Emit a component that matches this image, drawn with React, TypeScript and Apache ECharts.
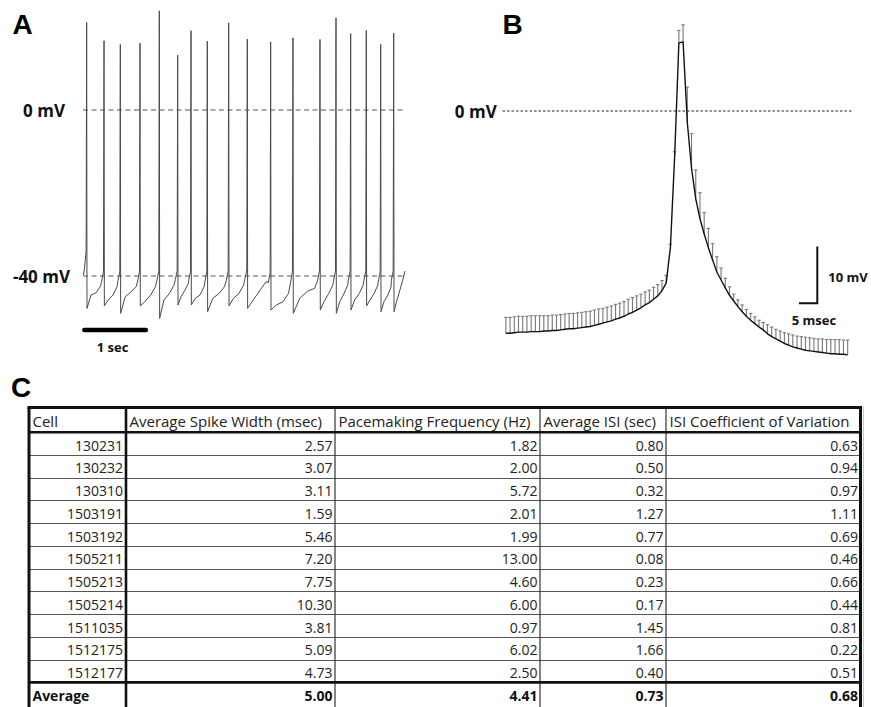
import { useEffect, useRef } from 'react';
import * as echarts from 'echarts';

// ---------------- Panel A: spontaneous firing trace ----------------
const spikeTimesSec = [0.010, 0.273, 0.520, 0.818, 1.111, 1.389, 1.591, 1.838, 2.162, 2.444, 2.798, 3.136, 3.545, 3.788, 4.010, 4.247, 4.465, 4.662];
const spikePeaksMv = [21.1, 16.7, 15.8, 16.1, 23.9, 13.2, 19.1, 16.6, 21.0, 17.1, 16.4, 17.4, 17.0, 22.2, 18.4, 19.2, 15.8, 18.5];
const approachMv = [-38.5, -41.2, -41.0, -41.2, -41.0, -40.8, -41.0, -41.2, -41.0, -40.6, -41.6, -41.4, -41.0, -41.0, -41.0, -41.0, -41.2, -41.0];
const onsetMv = [-34.0, -39.0, -39.0, -39.0, -38.8, -38.8, -39.0, -39.0, -38.8, -38.6, -39.2, -39.0, -38.8, -38.8, -38.8, -38.8, -39.0, -38.8];
const troughMv = [-47.8, -47.2, -49.0, -47.2, -50.2, -47.0, -47.0, -48.6, -47.2, -47.8, -48.2, -49.0, -48.2, -49.0, -48.2, -47.2, -48.6, -48.6];
const earlyMv = [-44.6, -45.8, -45.0, -46.2, -45.8, -45.0, -45.4, -45.4, -45.4, -45.8, -47.0, -45.4, -46.2, -46.2, -45.8, -45.8, -46.2, -46.2];
const midMv = [-44.0, -44.6, -43.8, -44.6, -44.2, -43.4, -44.6, -44.2, -44.2, -43.4, -46.2, -43.6, -44.2, -44.2, -44.2, -44.2, -44.6, -43.4];
const lateMv = [-42.4, -42.6, -42.6, -42.6, -42.2, -41.8, -42.6, -42.6, -42.2, -41.4, -44.2, -43.0, -42.2, -42.2, -42.2, -42.2, -42.6, -41.0];
const traceStartA = [-0.04, -39.8];
const traceEndA = [4.833, -38.8];
const refLinesA = [0, -40];
const timeBarSec = [-0.026, 0.906];
const timeBarMv = -53;

// ---------------- Panel B: average spike waveform ----------------
const sampleMs = 1.15;
const peakIndex = 42;
const meanB = [
  -39.2, -39.2, -39.1, -39.0, -39.0, -39.0, -38.9, -38.9, -38.9, -38.8, -38.8, -38.7, -38.7, -38.6, -38.5,
  -38.4, -38.4, -38.3, -38.2, -38.1, -38.0, -37.8, -37.6, -37.4, -37.2, -37.0, -36.7, -36.5, -36.2, -35.8,
  -35.5, -35.1, -34.7, -34.2, -33.8, -33.2, -32.6, -31.7, -30.3, -24.0, -8.0, 12.0, 12.2,
  -2.0, -10.1, -15.5, -19.0, -21.7, -24.1, -26.3, -28.4, -29.8, -31.2, -32.5, -33.5, -34.5, -35.4, -36.2,
  -36.9, -37.5, -38.1, -38.6, -39.3, -39.8, -40.2, -40.6, -41.0, -41.3, -41.6, -41.8, -42.0, -42.2, -42.3,
  -42.4, -42.5, -42.6, -42.7, -42.8, -42.8, -42.9, -42.9, -43.0,
];
const semB = [
  2.8, 2.8, 2.8, 2.8, 2.8, 2.8, 2.8, 2.8, 2.8, 2.7, 2.7, 2.7, 2.7, 2.7, 2.7,
  2.7, 2.7, 2.7, 2.7, 2.7, 2.7, 2.7, 2.7, 2.6, 2.6, 2.6, 2.6, 2.6, 2.6, 2.6,
  2.6, 2.5, 2.4, 2.3, 2.2, 2.1, 2.0, 1.8, 1.3, 0.5, 0.8, 2.2, 3.0,
  6.2, 6.1, 5.1, 4.6, 3.8, 3.4, 2.9, 2.7, 2.1, 1.7, 1.5, 1.2, 1.2, 1.2, 1.2,
  1.2, 1.2, 1.2, 1.3, 1.6, 1.7, 1.7, 1.8, 1.9, 2.0, 2.1, 2.1, 2.2, 2.3, 2.3,
  2.3, 2.3, 2.4, 2.4, 2.5, 2.5, 2.6, 2.5, 2.6,
];
const zeroLineMs = [-49.2, 46];
const scaleBarMs = [31.57, 36.57];
const scaleBarMv = [-33.9, -23.9];

// ---------------- Panel C: table ----------------
const headers = ['Cell', 'Average Spike Width (msec)', 'Pacemaking Frequency (Hz)', 'Average ISI (sec)', 'ISI Coefficient of Variation'];
const cellIds = ['130231', '130232', '130310', '1503191', '1503192', '1505211', '1505213', '1505214', '1511035', '1512175', '1512177'];
const spikeWidth = [2.57, 3.07, 3.11, 1.59, 5.46, 7.2, 7.75, 10.3, 3.81, 5.09, 4.73];
const pacemakingFreq = [1.82, 2.0, 5.72, 2.01, 1.99, 13.0, 4.6, 6.0, 0.97, 6.02, 2.5];
const averageIsi = [0.8, 0.5, 0.32, 1.27, 0.77, 0.08, 0.23, 0.17, 1.45, 1.66, 0.4];
const isiCv = [0.63, 0.94, 0.97, 1.11, 0.69, 0.46, 0.66, 0.44, 0.81, 0.22, 0.51];
const averageRow = [5.0, 4.41, 0.73, 0.68];

function buildTraceA() {
  const pts: number[][] = [traceStartA];
  for (let i = 0; i < spikeTimesSec.length; i++) {
    const t = spikeTimesSec[i];
    const next = i + 1 < spikeTimesSec.length ? spikeTimesSec[i + 1] : traceEndA[0];
    const dt = next - t;
    pts.push([t - 0.035, approachMv[i]]);
    pts.push([t - 0.008, onsetMv[i]]);
    pts.push([t, spikePeaksMv[i]]);
    pts.push([t + 0.005, troughMv[i]]);
    pts.push([t + 0.25 * dt, earlyMv[i]]);
    pts.push([t + 0.55 * dt, midMv[i]]);
    pts.push([t + 0.8 * dt, lateMv[i]]);
  }
  pts.push(traceEndA);
  return pts;
}

const LABEL_FONT = '"Open Sans", "Liberation Sans", sans-serif';
const LETTER_FONT = '"Liberation Sans", Arial, sans-serif';

function textEl(text: string, x: number, y: number, size: number, weight: string, align: string, font = LABEL_FONT, fill = '#111') {
  return {
    type: 'text',
    x,
    y,
    silent: true,
    style: { text, fill, fontSize: size, fontWeight: weight, fontFamily: font, align, verticalAlign: 'middle' },
  };
}

function lineEl(x1: number, y1: number, x2: number, y2: number, width: number, color: string) {
  return {
    type: 'line',
    silent: true,
    shape: { x1, y1, x2, y2 },
    style: { stroke: color, lineWidth: width },
  };
}

function buildTable() {
  const els: any[] = [];
  const colEdges = [29, 126, 335, 540, 666, 860.5];
  const top = 407.5;
  const headerBottom = 432.3;
  const rowH = 22.73;
  const avgTop = headerBottom + rowH * cellIds.length;
  const bottom = 712;
  const textColor = '#222';

  for (let i = 1; i < cellIds.length; i++) {
    const y = Math.round(headerBottom + rowH * i) + 0.5;
    els.push(lineEl(colEdges[0], y, colEdges[5], y, 1, '#555'));
  }
  for (let c = 2; c <= 4; c++) {
    els.push(lineEl(colEdges[c], top, colEdges[c], bottom, 1.2, '#333'));
  }
  els.push(lineEl(colEdges[1], top, colEdges[1], bottom, 2.6, '#111'));
  els.push(lineEl(colEdges[0], headerBottom, colEdges[5], headerBottom, 2.6, '#111'));
  els.push(lineEl(colEdges[0], avgTop, colEdges[5], avgTop, 2.6, '#111'));
  els.push(lineEl(colEdges[0] - 1.5, top, colEdges[5] + 1.5, top, 3, '#111'));
  els.push(lineEl(colEdges[0], top, colEdges[0], bottom, 3, '#111'));
  els.push(lineEl(colEdges[5], top, colEdges[5], bottom, 3, '#111'));
  els.push(lineEl(colEdges[5] + 3, top - 1, colEdges[5] + 3, bottom, 1, '#c8c8c8'));

  headers.forEach((h, c) => {
    els.push(textEl(h, colEdges[c] + 3.5, (top + headerBottom) / 2 + 1.5, 15, 'normal', 'left', LABEL_FONT, textColor));
  });
  const cols = [spikeWidth, pacemakingFreq, averageIsi, isiCv];
  cellIds.forEach((id, r) => {
    const y = headerBottom + rowH * (r + 0.5) + 1.5;
    els.push(textEl(id, colEdges[1] - 3, y, 14, 'normal', 'right', LABEL_FONT, textColor));
    cols.forEach((col, c) => {
      els.push(textEl(col[r].toFixed(2), colEdges[c + 2] - 2.5, y, 14, 'normal', 'right', LABEL_FONT, textColor));
    });
  });
  const yAvg = avgTop + 13.5;
  els.push(textEl('Average', colEdges[0] + 3.5, yAvg, 14, 'bold', 'left', LABEL_FONT, '#111'));
  averageRow.forEach((v, c) => {
    els.push(textEl(v.toFixed(2), colEdges[c + 2] - 2.5, yAvg, 14, 'bold', 'right', LABEL_FONT, '#111'));
  });
  return els;
}

export default function App() {
  const ref = useRef<HTMLDivElement>(null);

  useEffect(() => {
    document.body.style.margin = '0';
    if (!ref.current) return;
    const chart = echarts.init(ref.current, undefined, { renderer: 'svg' });

    const timesB = meanB.map((_, k) => (k - peakIndex) * sampleMs);
    const meanData = meanB.map((m, k) => [timesB[k], m]);
    const errData = meanB.map((m, k) => [timesB[k], m, semB[k]]);

    const option: any = {
      animation: false,
      backgroundColor: '#ffffff',
      grid: [
        { left: 79.4, top: 6.25, width: 336.6, height: 336.15 },
        { left: 499.6, top: 8.94, width: 352.3, height: 362.9 },
      ],
      xAxis: [
        { type: 'value', gridIndex: 0, min: -0.1, max: 5, show: false },
        { type: 'value', gridIndex: 1, min: -50, max: 46, show: false },
      ],
      yAxis: [
        { type: 'value', gridIndex: 0, min: -56, max: 25, show: false },
        { type: 'value', gridIndex: 1, min: -46, max: 18, show: false },
      ],
      series: [
        ...refLinesA.map((v) => ({
          type: 'line',
          xAxisIndex: 0,
          yAxisIndex: 0,
          symbol: 'none',
          silent: true,
          z: 1,
          data: [[-0.045, v], [4.83, v]],
          lineStyle: { color: '#555', width: 1, type: [5, 3.5] },
        })),
        {
          type: 'line',
          xAxisIndex: 0,
          yAxisIndex: 0,
          symbol: 'none',
          silent: true,
          z: 3,
          data: buildTraceA(),
          lineStyle: { color: '#4a4a4a', width: 1, join: 'bevel' },
        },
        {
          type: 'line',
          xAxisIndex: 0,
          yAxisIndex: 0,
          symbol: 'none',
          silent: true,
          z: 3,
          data: [[timeBarSec[0], timeBarMv], [timeBarSec[1], timeBarMv]],
          lineStyle: { color: '#000', width: 4.5, cap: 'round' },
        },
        {
          type: 'line',
          xAxisIndex: 1,
          yAxisIndex: 1,
          symbol: 'none',
          silent: true,
          z: 1,
          data: [[zeroLineMs[0], 0], [zeroLineMs[1], 0]],
          lineStyle: { color: '#222', width: 1, type: [2.5, 2] },
        },
        {
          type: 'custom',
          xAxisIndex: 1,
          yAxisIndex: 1,
          silent: true,
          z: 2,
          dimensions: ['t', 'mean', 'sem'],
          encode: { x: 0, y: 1 },
          data: errData,
          renderItem: (_params: any, api: any) => {
            const t = api.value(0);
            const m = api.value(1);
            const s = api.value(2);
            const p0 = api.coord([t, m]);
            const p1 = api.coord([t, m + s]);
            const st = { stroke: '#777', lineWidth: 1.1 };
            return {
              type: 'group',
              children: [
                { type: 'line', shape: { x1: p0[0], y1: p0[1], x2: p1[0], y2: p1[1] }, style: st },
                { type: 'line', shape: { x1: p1[0] - 1.7, y1: p1[1], x2: p1[0] + 1.7, y2: p1[1] }, style: st },
              ],
            };
          },
        },
        {
          type: 'line',
          xAxisIndex: 1,
          yAxisIndex: 1,
          symbol: 'none',
          silent: true,
          z: 4,
          data: meanData,
          lineStyle: { color: '#111', width: 1.4, join: 'round' },
        },
        {
          type: 'line',
          xAxisIndex: 1,
          yAxisIndex: 1,
          symbol: 'none',
          silent: true,
          z: 4,
          data: [[scaleBarMs[0], scaleBarMv[0]], [scaleBarMs[1], scaleBarMv[0]], [scaleBarMs[1], scaleBarMv[1]]],
          lineStyle: { color: '#111', width: 2, join: 'miter' },
        },
      ],
      graphic: [
        textEl('A', 12.5, 24, 28, 'bold', 'left', LETTER_FONT, '#000'),
        textEl('B', 502.5, 24, 28, 'bold', 'left', LETTER_FONT, '#000'),
        textEl('C', 11, 387.5, 28, 'bold', 'left', LETTER_FONT, '#000'),
        textEl('0 mV', 65, 110.5, 17, 'bold', 'right'),
        textEl('-40 mV', 70, 276.5, 17, 'bold', 'right'),
        textEl('1 sec', 112.5, 346.5, 13, 'bold', 'center'),
        textEl('0 mV', 496.7, 111, 17, 'bold', 'right'),
        textEl('10 mV', 828.3, 277, 13, 'bold', 'left'),
        textEl('5 msec', 814, 319.5, 13, 'bold', 'center'),
        ...buildTable(),
      ],
    };

    chart.setOption(option);
    return () => chart.dispose();
  }, []);

  return <div ref={ref} style={{ width: 871, height: 707 }} />;
}
